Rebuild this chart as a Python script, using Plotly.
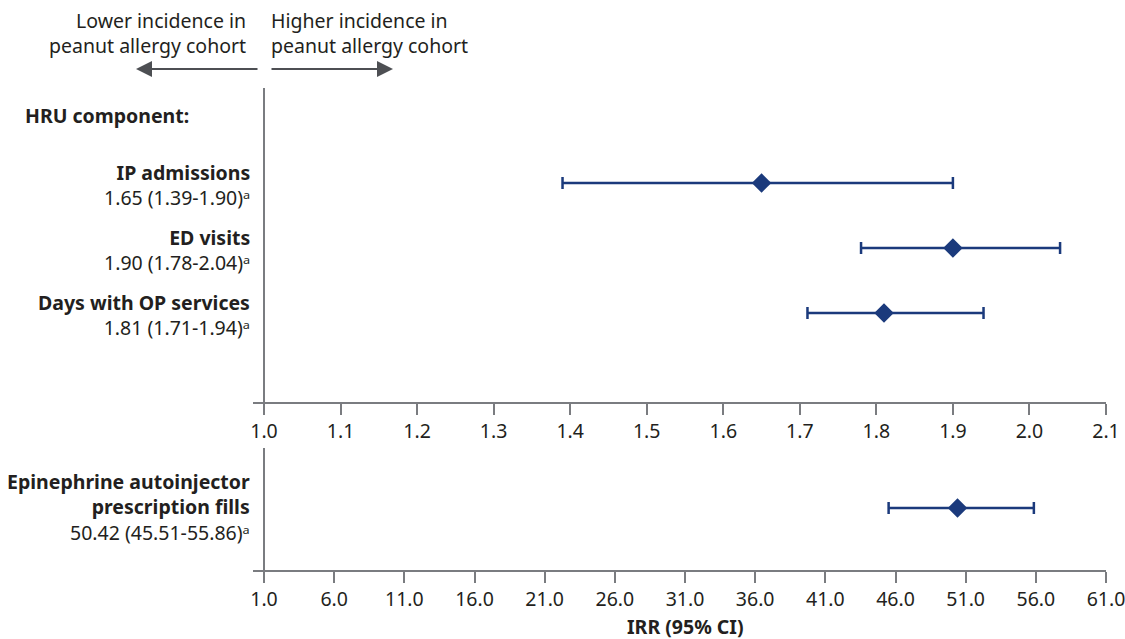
import plotly.graph_objects as go
from plotly.subplots import make_subplots

# ---- data ----
hru_labels = ["IP admissions", "ED visits", "Days with OP services"]
hru_est = [1.65, 1.90, 1.81]
hru_lo = [1.39, 1.78, 1.71]
hru_hi = [1.90, 2.04, 1.94]

epi_label = ["Epinephrine autoinjector", "prescription fills"]
epi_est = [50.42]
epi_lo = [45.51]
epi_hi = [55.86]

top_ticks = [1.0, 1.1, 1.2, 1.3, 1.4, 1.5, 1.6, 1.7, 1.8, 1.9, 2.0, 2.1]
bot_ticks = [1.0, 6.0, 11.0, 16.0, 21.0, 26.0, 31.0, 36.0, 41.0, 46.0, 51.0, 56.0, 61.0]

# ---- styling ----
W, H = 1125, 639
ML, MR, MT, MB = 253, 19, 88, 69
PH = H - MT - MB
NAVY = "#1b3a7c"
AXC = "#7a7c80"
TXT = "#231f20"
ARC = "#4d4f53"
FONT = "Noto Sans"
FS = 19.5


def px_y(p):
    return (H - MB - p) / PH


fig = make_subplots(rows=2, cols=1)

rows = list(range(len(hru_labels)))
fig.add_trace(go.Scatter(
    x=hru_est, y=rows, mode="markers",
    marker=dict(symbol="diamond", size=15, color=NAVY),
    error_x=dict(type="data", symmetric=False,
                 array=[h - e for h, e in zip(hru_hi, hru_est)],
                 arrayminus=[e - l for e, l in zip(hru_est, hru_lo)],
                 color=NAVY, thickness=2.5, width=6),
    showlegend=False, hoverinfo="skip"), row=1, col=1)

fig.add_trace(go.Scatter(
    x=epi_est, y=[0], mode="markers",
    marker=dict(symbol="diamond", size=15, color=NAVY),
    error_x=dict(type="data", symmetric=False,
                 array=[h - e for h, e in zip(epi_hi, epi_est)],
                 arrayminus=[e - l for e, l in zip(epi_est, epi_lo)],
                 color=NAVY, thickness=2.5, width=6),
    showlegend=False, hoverinfo="skip"), row=2, col=1)

top_d = [px_y(402), 1.0]
bot_d = [0.0, px_y(448)]

# x ranges with a small stub left of 1.0
top_scale = (1106 - 264) / (top_ticks[-1] - top_ticks[0])
bot_scale = (1106 - 264) / (bot_ticks[-1] - bot_ticks[0])
top_rng = [top_ticks[0] - 11 / top_scale, top_ticks[-1]]
bot_rng = [bot_ticks[0] - 11 / bot_scale, bot_ticks[-1]]

axis_common = dict(showline=True, linecolor=AXC, linewidth=2, ticks="outside",
                   ticklen=11, tickwidth=2, tickcolor=AXC, showgrid=False,
                   zeroline=False, automargin=False, ticklabeloverflow="allow",
                   tickfont=dict(family=FONT, size=FS, color=TXT))
fig.update_xaxes(range=top_rng, tickvals=top_ticks,
                 ticktext=[f"{t:.1f}" for t in top_ticks], row=1, col=1, **axis_common)
fig.update_xaxes(range=bot_rng, tickvals=bot_ticks,
                 ticktext=[f"{t:.1f}" for t in bot_ticks], row=2, col=1, **axis_common)
fig.update_layout(
    template="none",
    xaxis=dict(domain=[0, 1]), xaxis2=dict(domain=[0, 1]),
    yaxis=dict(domain=top_d, range=[2 + 89 / 65, -95 / 65], visible=False),
    yaxis2=dict(domain=bot_d, range=[-62 / 60, 60 / 60], visible=False),
)

shapes = [
    dict(type="line", xref="x", yref="y domain", x0=1.0, x1=1.0, y0=0, y1=1,
         line=dict(color=AXC, width=2)),
    dict(type="line", xref="x2", yref="y2 domain", x0=1.0, x1=1.0, y0=0, y1=1,
         line=dict(color=AXC, width=2)),
]


def xs(p):
    # pixel offset from the left edge of the plot area
    return p - ML


SUP_A = "\u1d43"

ann = []
for i, (lab, e, l, h) in enumerate(zip(hru_labels, hru_est, hru_lo, hru_hi)):
    ann.append(dict(xref="paper", yref="y", x=0, y=i, xanchor="right", yanchor="middle",
                    xshift=-1, yshift=-2, showarrow=False, align="right",
                    text=f"<b>{lab}</b><br>{e:.2f} ({l:.2f}-{h:.2f}){SUP_A}",
                    font=dict(family=FONT, size=FS, color=TXT)))

ann.append(dict(xref="paper", yref="y2", x=0, y=0, xanchor="right", yanchor="middle",
                xshift=-1, yshift=1, showarrow=False, align="right",
                text=f"<b>{epi_label[0]}</b><br><b>{epi_label[1]}</b><br>"
                     f"{epi_est[0]:.2f} ({epi_lo[0]:.2f}-{epi_hi[0]:.2f}){SUP_A}",
                font=dict(family=FONT, size=FS, color=TXT)))

ann.append(dict(xref="paper", yref="paper", x=0, xshift=xs(23), y=px_y(115), xanchor="left",
                yanchor="middle", showarrow=False, text="<b>HRU component:</b>",
                font=dict(family=FONT, size=FS, color=TXT)))

ann.append(dict(xref="paper", yref="paper", x=0, xshift=xs(685), y=px_y(626), xanchor="center",
                yanchor="middle", showarrow=False, text="<b>IRR (95% CI)</b>",
                font=dict(family=FONT, size=FS, color=TXT)))

# direction labels
ann.append(dict(xref="paper", yref="paper", x=0, xshift=xs(248), y=px_y(33), xanchor="right",
                yanchor="middle", align="right", showarrow=False,
                text="Lower incidence in<br>peanut allergy cohort",
                font=dict(family=FONT, size=FS, color=TXT)))
ann.append(dict(xref="paper", yref="paper", x=0, xshift=xs(269), y=px_y(33), xanchor="left",
                yanchor="middle", align="left", showarrow=False,
                text="Higher incidence in<br>peanut allergy cohort",
                font=dict(family=FONT, size=FS, color=TXT)))
# arrows
ann.append(dict(xref="paper", yref="paper", x=0, xshift=xs(393), y=px_y(69), ax=-123, ay=0,
                axref="pixel", ayref="pixel", showarrow=True, arrowhead=2,
                arrowsize=1.6, arrowwidth=2, arrowcolor=ARC, text=""))
ann.append(dict(xref="paper", yref="paper", x=0, xshift=xs(136), y=px_y(69), ax=123, ay=0,
                axref="pixel", ayref="pixel", showarrow=True, arrowhead=2,
                arrowsize=1.6, arrowwidth=2, arrowcolor=ARC, text=""))

fig.update_layout(
    width=W, height=H, margin=dict(l=ML, r=MR, t=MT, b=MB),
    plot_bgcolor="white", paper_bgcolor="white",
    shapes=shapes, annotations=ann,
    font=dict(family=FONT, size=FS, color=TXT),
)

fig.write_html("out.html",
               config={"displayModeBar": False, "responsive": False},
               post_script="document.body.style.margin='0';document.body.style.overflow='hidden';")
